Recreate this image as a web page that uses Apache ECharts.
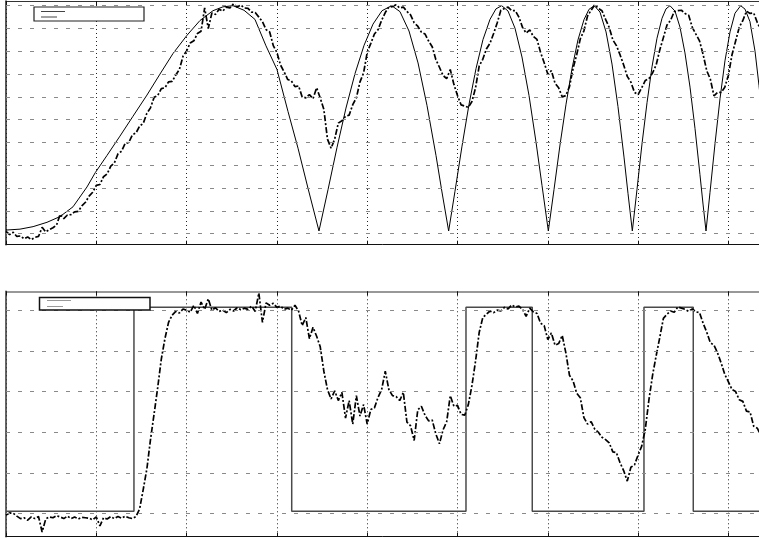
<!DOCTYPE html>
<html><head><meta charset="utf-8">
<script src="https://cdn.jsdelivr.net/npm/echarts@6/dist/echarts.min.js"></script>
<style>html,body{margin:0;padding:0;background:#fff}#c{width:759px;height:538px}</style>
</head><body><div id="c"></div>
<script>
// ---- data ----
const timeStep = 0.4;               // sampling step of the measured traces
const xTickStep = 10;
const topGridTicks = [0,0.1,0.2,0.3,0.4,0.5,0.6,0.7,0.8,0.9,1.0];
const bottomGridTicks = [0,1,2,3,4,5];

// reference |sin| chirp (top, solid)
const refT = [0,0.08,1.55,3.0,4.54,5.98,7.42,8.97,9.89,11.18,12.62,14.06,15.61,17.05,18.49,20.04,21.48,22.92,24.03,25.14,
26.36,27.57,28.79,30.01,31.23,32.34,33.44,34.66,35.66,36.66,37.65,38.65,39.65,40.64,41.64,42.71,43.63,44.63,45.63,46.62,
47.62,48.28,49.02,49.72,50.5,51.27,52.05,52.82,53.6,54.26,54.89,55.59,56.37,57.14,57.92,58.69,59.36,60.06,60.69,61.35,
62.02,62.68,63.34,64.01,64.56,65.15,65.78,66.45,67.11,67.77,68.44,68.88,69.36,69.88,70.43,70.99,71.54,72.09,72.65,73.09,
73.53,74.09,74.64,75.19,75.75,76.3,76.85,77.19,77.52,77.96,78.52,79.07,79.62,80.18,80.73,81.36,81.84,82.39,82.95,83.39,84.05];
const refV = [0.016,0.016,0.02,0.031,0.05,0.075,0.118,0.205,0.268,0.343,0.428,0.515,0.608,0.7,0.79,0.87,0.935,0.978,0.995,1.0,
0.98,0.94,0.824,0.72,0.536,0.375,0.2,0.012,0.193,0.379,0.551,0.702,0.826,0.919,0.978,1.0,0.974,0.889,0.749,0.563,
0.343,0.183,0.012,0.186,0.384,0.566,0.724,0.851,0.94,0.986,1.0,0.977,0.901,0.775,0.606,0.403,0.211,0.012,0.194,0.389,
0.568,0.724,0.85,0.939,0.984,1.0,0.972,0.885,0.744,0.558,0.336,0.177,0.012,0.195,0.393,0.575,0.732,0.857,0.945,0.986,
1.0,0.976,0.906,0.793,0.643,0.462,0.259,0.13,0.012,0.18,0.396,0.592,0.758,0.885,0.967,1.0,0.985,0.93,0.8,0.65,0.4];

// measured response (top, dash-dot), one value per timeStep
const topMeas = [0.01,-0.004,0.006,-0.012,-0.01,-0.022,-0.014,-0.026,-0.016,-0.012,
0.028,0.008,0.018,0.026,0.038,0.085,0.066,0.082,0.084,0.096,
0.098,0.122,0.138,0.165,0.182,0.212,0.216,0.25,0.262,0.296,
0.31,0.35,0.362,0.396,0.4,0.434,0.442,0.472,0.484,0.528,
0.552,0.598,0.606,0.636,0.64,0.666,0.668,0.696,0.72,0.778,
0.802,0.836,0.846,0.878,0.888,0.99,0.9,0.968,0.962,0.984,
0.976,0.994,0.99,1.008,0.994,1.003,0.99,0.988,0.972,0.97,
0.95,0.93,0.895,0.885,0.825,0.795,0.74,0.71,0.676,0.67,
0.645,0.648,0.6,0.596,0.61,0.592,0.64,0.595,0.545,0.415,
0.375,0.415,0.485,0.495,0.515,0.52,0.566,0.596,0.666,0.705,
0.795,0.835,0.876,0.895,0.936,0.97,0.994,0.996,1.004,0.99,
0.994,0.975,0.96,0.925,0.91,0.884,0.876,0.845,0.82,0.764,
0.73,0.694,0.68,0.72,0.655,0.606,0.565,0.56,0.554,0.58,
0.64,0.735,0.765,0.81,0.835,0.878,0.925,0.98,0.988,0.994,
0.978,0.978,0.95,0.905,0.88,0.894,0.865,0.852,0.795,0.75,
0.7,0.715,0.66,0.64,0.6,0.606,0.645,0.725,0.785,0.855,
0.89,0.955,0.98,1.004,0.988,0.978,0.94,0.905,0.85,0.825,
0.785,0.74,0.69,0.665,0.62,0.61,0.64,0.672,0.68,0.705,
0.74,0.806,0.86,0.915,0.936,0.974,0.978,0.98,0.966,0.958,
0.905,0.875,0.846,0.786,0.715,0.678,0.605,0.62,0.62,0.642,
0.695,0.785,0.845,0.905,0.935,0.976,0.966,0.968,0.926,0.894,
0.85];

// square-wave command (bottom), value holds from each switch time to the next
const cmdT = [0,14.17,31.64,50.94,58.28,70.65,76.11,90];
const cmdV = [0.06,5.07,0.06,5.07,0.06,5.07,0.06,0.06];

// measured response (bottom, dash-dot), one value per timeStep
const bottomMeas = [-0.03,0.02,0.01,-0.06,-0.12,-0.1,-0.16,-0.08,-0.12,-0.07,
-0.45,-0.13,-0.08,-0.1,-0.05,-0.08,-0.12,-0.06,-0.12,-0.08,
-0.13,-0.09,-0.1,-0.11,-0.15,-0.08,-0.3,-0.1,-0.13,-0.07,
-0.12,-0.07,-0.11,-0.06,-0.1,-0.12,-0.07,0.12,0.6,1.1,
1.82,2.45,3.1,3.8,4.3,4.7,4.88,4.97,4.93,5.03,
5.0,4.95,5.12,4.92,5.2,5.02,5.28,5.0,5.06,4.97,
5.0,4.94,5.02,4.98,5.06,5.01,5.05,5.02,5.1,4.97,
5.42,4.7,5.18,5.12,5.17,5.07,5.1,5.02,5.05,5.0,
5.12,4.98,4.62,4.82,4.3,4.58,4.36,4.1,3.5,3.05,
2.82,3.02,2.78,2.98,2.35,2.78,2.2,2.9,2.4,2.68,
2.2,2.56,2.6,2.86,3.05,3.5,3.05,2.9,2.88,2.78,
2.98,2.25,2.16,1.8,2.55,2.64,2.42,2.28,2.3,1.96,
1.72,2.06,2.26,2.9,2.64,2.66,2.44,2.42,2.68,3.15,
3.75,4.45,4.82,4.9,4.98,4.94,5.0,4.98,5.07,5.03,
5.13,5.08,5.1,5.02,4.85,5.05,4.96,4.92,4.68,4.62,
4.28,4.44,4.14,4.18,4.38,3.95,3.4,3.26,2.96,2.85,
2.36,2.2,2.26,2.08,2.0,1.88,1.82,1.74,1.52,1.5,
1.25,1.06,0.8,1.14,1.2,1.44,1.66,2.08,2.8,3.4,
3.88,4.33,4.8,4.9,4.98,4.95,5.08,5.05,5.02,4.97,
5.03,4.96,4.94,4.68,4.46,4.2,4.14,3.95,3.7,3.42,
3.24,3.05,3.0,2.8,2.76,2.52,2.5,2.15,2.1,1.92,
1.9];

// ---- chart ----
const chart = echarts.init(document.getElementById('c'), null, {renderer: 'canvas'});

function xAx(gridIndex, position, color, width, split) {
  return {
    type: 'value', gridIndex: gridIndex, position: position, min: 0, max: 90, interval: xTickStep,
    axisLine: {show: true, onZero: false, lineStyle: {color: color, width: width}},
    axisTick: {show: true, inside: true, length: 4, lineStyle: {color: '#111'}},
    axisLabel: {show: false},
    splitLine: {show: split, lineStyle: {color: '#222', type: [1, 3], width: 1}}
  };
}
function gridLines(ticks) {
  return {
    silent: true, symbol: ['none', 'none'], label: {show: false}, animation: false,
    lineStyle: {color: '#8a8a8a', type: [4, 8], width: 1},
    emphasis: {disabled: true},
    data: ticks.map(v => ({yAxis: v}))
  };
}
const dashDot = [6, 2, 2, 2];

const option = {
  animation: false,
  backgroundColor: '#fff',
  grid: [
    {left: 6, top: 1, width: 812.7, height: 243.7, outerBoundsMode: 'none', containLabel: false},
    {left: 6, top: 291.3, width: 812.7, height: 245.4, outerBoundsMode: 'none', containLabel: false}
  ],
  xAxis: [
    xAx(0, 'bottom', '#111', 1, true),
    xAx(0, 'top', '#333', 1, false),
    xAx(1, 'bottom', '#111', 1, true),
    xAx(1, 'top', '#777', 1.5, false)
  ],
  yAxis: [
    {type: 'value', gridIndex: 0, min: -0.0482, max: 1.0206,
     axisLine: {show: true, onZero: false, lineStyle: {color: '#222', width: 1.5}},
     axisTick: {show: false}, axisLabel: {show: false}, splitLine: {show: false}},
    {type: 'value', gridIndex: 1, min: -0.565, max: 5.464,
     axisLine: {show: true, onZero: false, lineStyle: {color: '#333', width: 1.5}},
     axisTick: {show: false}, axisLabel: {show: false}, splitLine: {show: false}}
  ],
  series: [
    {type: 'line', xAxisIndex: 0, yAxisIndex: 0, symbol: 'none', z: 3,
     data: refT.map((t, i) => [t, refV[i]]),
     lineStyle: {color: '#000', width: 1},
     markLine: gridLines(topGridTicks)},
    {type: 'line', xAxisIndex: 0, yAxisIndex: 0, symbol: 'none', z: 4,
     data: topMeas.map((v, i) => [i * timeStep, v]),
     lineStyle: {color: '#000', width: 1.7, type: dashDot}},
    {type: 'line', xAxisIndex: 2, yAxisIndex: 1, symbol: 'none', step: 'end', z: 3,
     data: cmdT.map((t, i) => [t, cmdV[i]]),
     lineStyle: {color: '#4a4a4a', width: 1.5},
     markLine: gridLines(bottomGridTicks)},
    {type: 'line', xAxisIndex: 2, yAxisIndex: 1, symbol: 'none', z: 4,
     data: bottomMeas.map((v, i) => [i * timeStep, v]),
     lineStyle: {color: '#000', width: 1.7, type: dashDot}}
  ],
  graphic: [
    {type: 'rect', z: 100, shape: {x: 34, y: 7, width: 110, height: 14},
     style: {fill: '#fff', stroke: '#222', lineWidth: 1.2}},
    {type: 'line', z: 101, shape: {x1: 41, y1: 11.5, x2: 65, y2: 11.5}, style: {stroke: '#444', lineWidth: 1}},
    {type: 'line', z: 101, shape: {x1: 41, y1: 17, x2: 57, y2: 17}, style: {stroke: '#444', lineWidth: 1}},
    {type: 'rect', z: 100, shape: {x: 39.5, y: 297.5, width: 110.5, height: 12.5},
     style: {fill: '#fff', stroke: '#111', lineWidth: 1.5}},
    {type: 'line', z: 101, shape: {x1: 47, y1: 300.5, x2: 71, y2: 300.5}, style: {stroke: '#999', lineWidth: 1}},
    {type: 'line', z: 101, shape: {x1: 47, y1: 306.5, x2: 63, y2: 306.5}, style: {stroke: '#999', lineWidth: 1}}
  ]
};
chart.setOption(option);
</script>
</body></html>
